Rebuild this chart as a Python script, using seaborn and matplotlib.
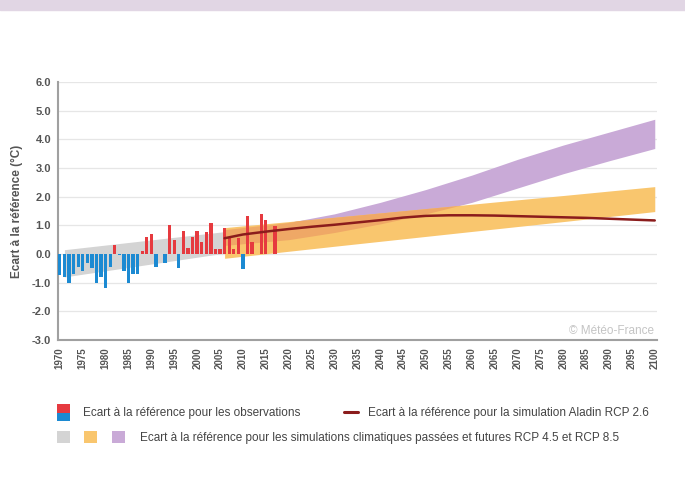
import numpy as np
import seaborn as sns
import matplotlib.pyplot as plt
from matplotlib.patches import Rectangle
from matplotlib.lines import Line2D


# observed anomalies (°C), one per year
obs_years = list(range(1970, 2018))
obs_values = [-0.73, -0.8, -1.0, -0.7, -0.45, -0.6, -0.3, -0.5, -1.0, -0.8,
              -1.2, -0.45, 0.3, -0.05, -0.6, -1.0, -0.7, -0.7, 0.1, 0.6,
              0.7, -0.45, 0.0, -0.3, 1.0, 0.5, -0.5, 0.8, 0.2, 0.6,
              0.8, 0.43, 0.78, 1.09, 0.16, 0.16, 0.9, 0.55, 0.16, 0.55,
              -0.53, 1.33, 0.43, 0.0, 1.4, 1.19, 0.0, 0.98]

# past simulations (grey band)
grey_years = [1971, 2006]
grey_low = [-0.8, 0.03]
grey_high = [0.15, 0.78]

# RCP 4.5 (orange band)
rcp45_years = [2006, 2030, 2055, 2080, 2100]
rcp45_low = [-0.15, 0.27, 0.7, 1.13, 1.48]
rcp45_high = [0.92, 1.28, 1.66, 2.04, 2.35]

# RCP 8.5 (purple band)
rcp85_years = [2006, 2020, 2030, 2040, 2050, 2060, 2070, 2080, 2090, 2100]
rcp85_low = [0.3, 0.5, 0.75, 1.05, 1.4, 1.8, 2.3, 2.8, 3.25, 3.68]
rcp85_high = [0.85, 1.1, 1.4, 1.8, 2.25, 2.75, 3.3, 3.8, 4.25, 4.7]

# Aladin RCP 2.6
aladin_years = [2006, 2010, 2015, 2020, 2025, 2030, 2035, 2040, 2045, 2050,
                2055, 2060, 2065, 2070, 2075, 2080, 2085, 2090, 2095, 2100]
aladin_values = [0.55, 0.68, 0.78, 0.87, 0.95, 1.02, 1.1, 1.18, 1.27, 1.33,
                 1.35, 1.35, 1.34, 1.32, 1.3, 1.28, 1.26, 1.23, 1.2, 1.17]

x_ticks = list(range(1970, 2101, 5))
y_ticks = [-3, -2, -1, 0, 1, 2, 3, 4, 5, 6]

RED = '#e63a3f'
BLUE = '#1c8ad2'
GREY = '#d4d4d4'
ORANGE = '#f9c66e'
PURPLE = '#c9aad7'
OVERLAP = '#efa866'
LINE = '#8b1c1c'
TXT = '#555555'

sns.set_style('white')
plt.rcParams['font.family'] = ['Liberation Sans Narrow', 'Liberation Sans', 'DejaVu Sans']

fig = plt.figure(figsize=(6.85, 4.78), dpi=100)
ax = fig.add_axes([0.0847, 0.2887, 0.8745, 0.5398])

# bands
ax.fill_between(grey_years, grey_low, grey_high, color=GREY, lw=0, zorder=1)
ax.fill_between(rcp85_years, rcp85_low, rcp85_high, color=PURPLE, lw=0, zorder=1)
ax.fill_between(rcp45_years, rcp45_low, rcp45_high, color=ORANGE, lw=0, zorder=2)
# where the two scenario bands overlap
g = np.arange(2006, 2101)
lo = np.maximum(np.interp(g, rcp45_years, rcp45_low), np.interp(g, rcp85_years, rcp85_low))
hi = np.minimum(np.interp(g, rcp45_years, rcp45_high), np.interp(g, rcp85_years, rcp85_high))
ax.fill_between(g, lo, hi, where=hi > lo, color=OVERLAP, lw=0, zorder=2, interpolate=True)

# observation bars
sign = ['pos' if v >= 0 else 'neg' for v in obs_values]
sns.barplot(x=obs_years, y=obs_values, hue=sign, palette={'pos': RED, 'neg': BLUE},
            native_scale=True, dodge=False, width=0.72, saturation=1,
            errorbar=None, legend=False, ax=ax, linewidth=0, edgecolor='none')
for p in ax.patches:
    p.set_zorder(3)

sns.lineplot(x=aladin_years, y=aladin_values, color=LINE, lw=1.8, ax=ax, zorder=4)

ax.set_xlim(1969.6, 2100.5)
ax.set_ylim(-3, 6)
ax.set_xticks(x_ticks)
ax.set_xticklabels([str(t) for t in x_ticks], rotation=90, fontsize=7,
                   fontweight='bold', color=TXT)
ax.set_yticks(y_ticks)
ax.set_yticklabels([f'{t:.1f}' for t in y_ticks], fontsize=8,
                   fontweight='bold', color=TXT)
ax.tick_params(length=0, pad=5)
ax.yaxis.grid(True, color='#e6e6e6', lw=0.9)
ax.set_axisbelow(True)
for s in ['top', 'right']:
    ax.spines[s].set_visible(False)
for s in ['left', 'bottom']:
    ax.spines[s].set_color('#a0a0a0')
    ax.spines[s].set_linewidth(1.5)
ax.set_xlabel('')
ax.set_ylabel('Ecart à la référence (°C)', fontsize=8.5, fontweight='bold',
              color=TXT, labelpad=6)

ax.text(0.995, 0.035, '© Météo-France', transform=ax.transAxes, ha='right',
        va='center', fontsize=8.5, color='#c4c4c4')

# top banner
fig.patches.append(Rectangle((0, 1 - 10 / 478), 1, 10 / 478, transform=fig.transFigure,
                             color='#e1d6e4', zorder=0))


def px_rect(x0, y0, w, h, color):
    fig.patches.append(Rectangle((x0 / 685, 1 - (y0 + h) / 478), w / 685, h / 478,
                                 transform=fig.transFigure, color=color, lw=0))


# legend, row 1
px_rect(57, 404, 13, 8.5, RED)
px_rect(57, 412.5, 13, 8.5, BLUE)
fig.text(83 / 685, 1 - 413 / 478, 'Ecart à la référence pour les observations',
         fontsize=8.5, color='#444444', va='center')
fig.add_artist(Line2D([344 / 685, 358 / 685], [1 - 412 / 478] * 2, color=LINE, lw=2.2))
fig.text(368 / 685, 1 - 413 / 478, 'Ecart à la référence pour la simulation Aladin RCP 2.6',
         fontsize=8.5, color='#444444', va='center')

# legend, row 2
px_rect(57, 431, 13, 12, GREY)
px_rect(84, 431, 13, 12, ORANGE)
px_rect(112, 431, 13, 12, PURPLE)
fig.text(140 / 685, 1 - 438 / 478,
         'Ecart à la référence pour les simulations climatiques passées et futures RCP 4.5 et RCP 8.5',
         fontsize=8.5, color='#444444', va='center')

fig.savefig('out.png', dpi=100)
